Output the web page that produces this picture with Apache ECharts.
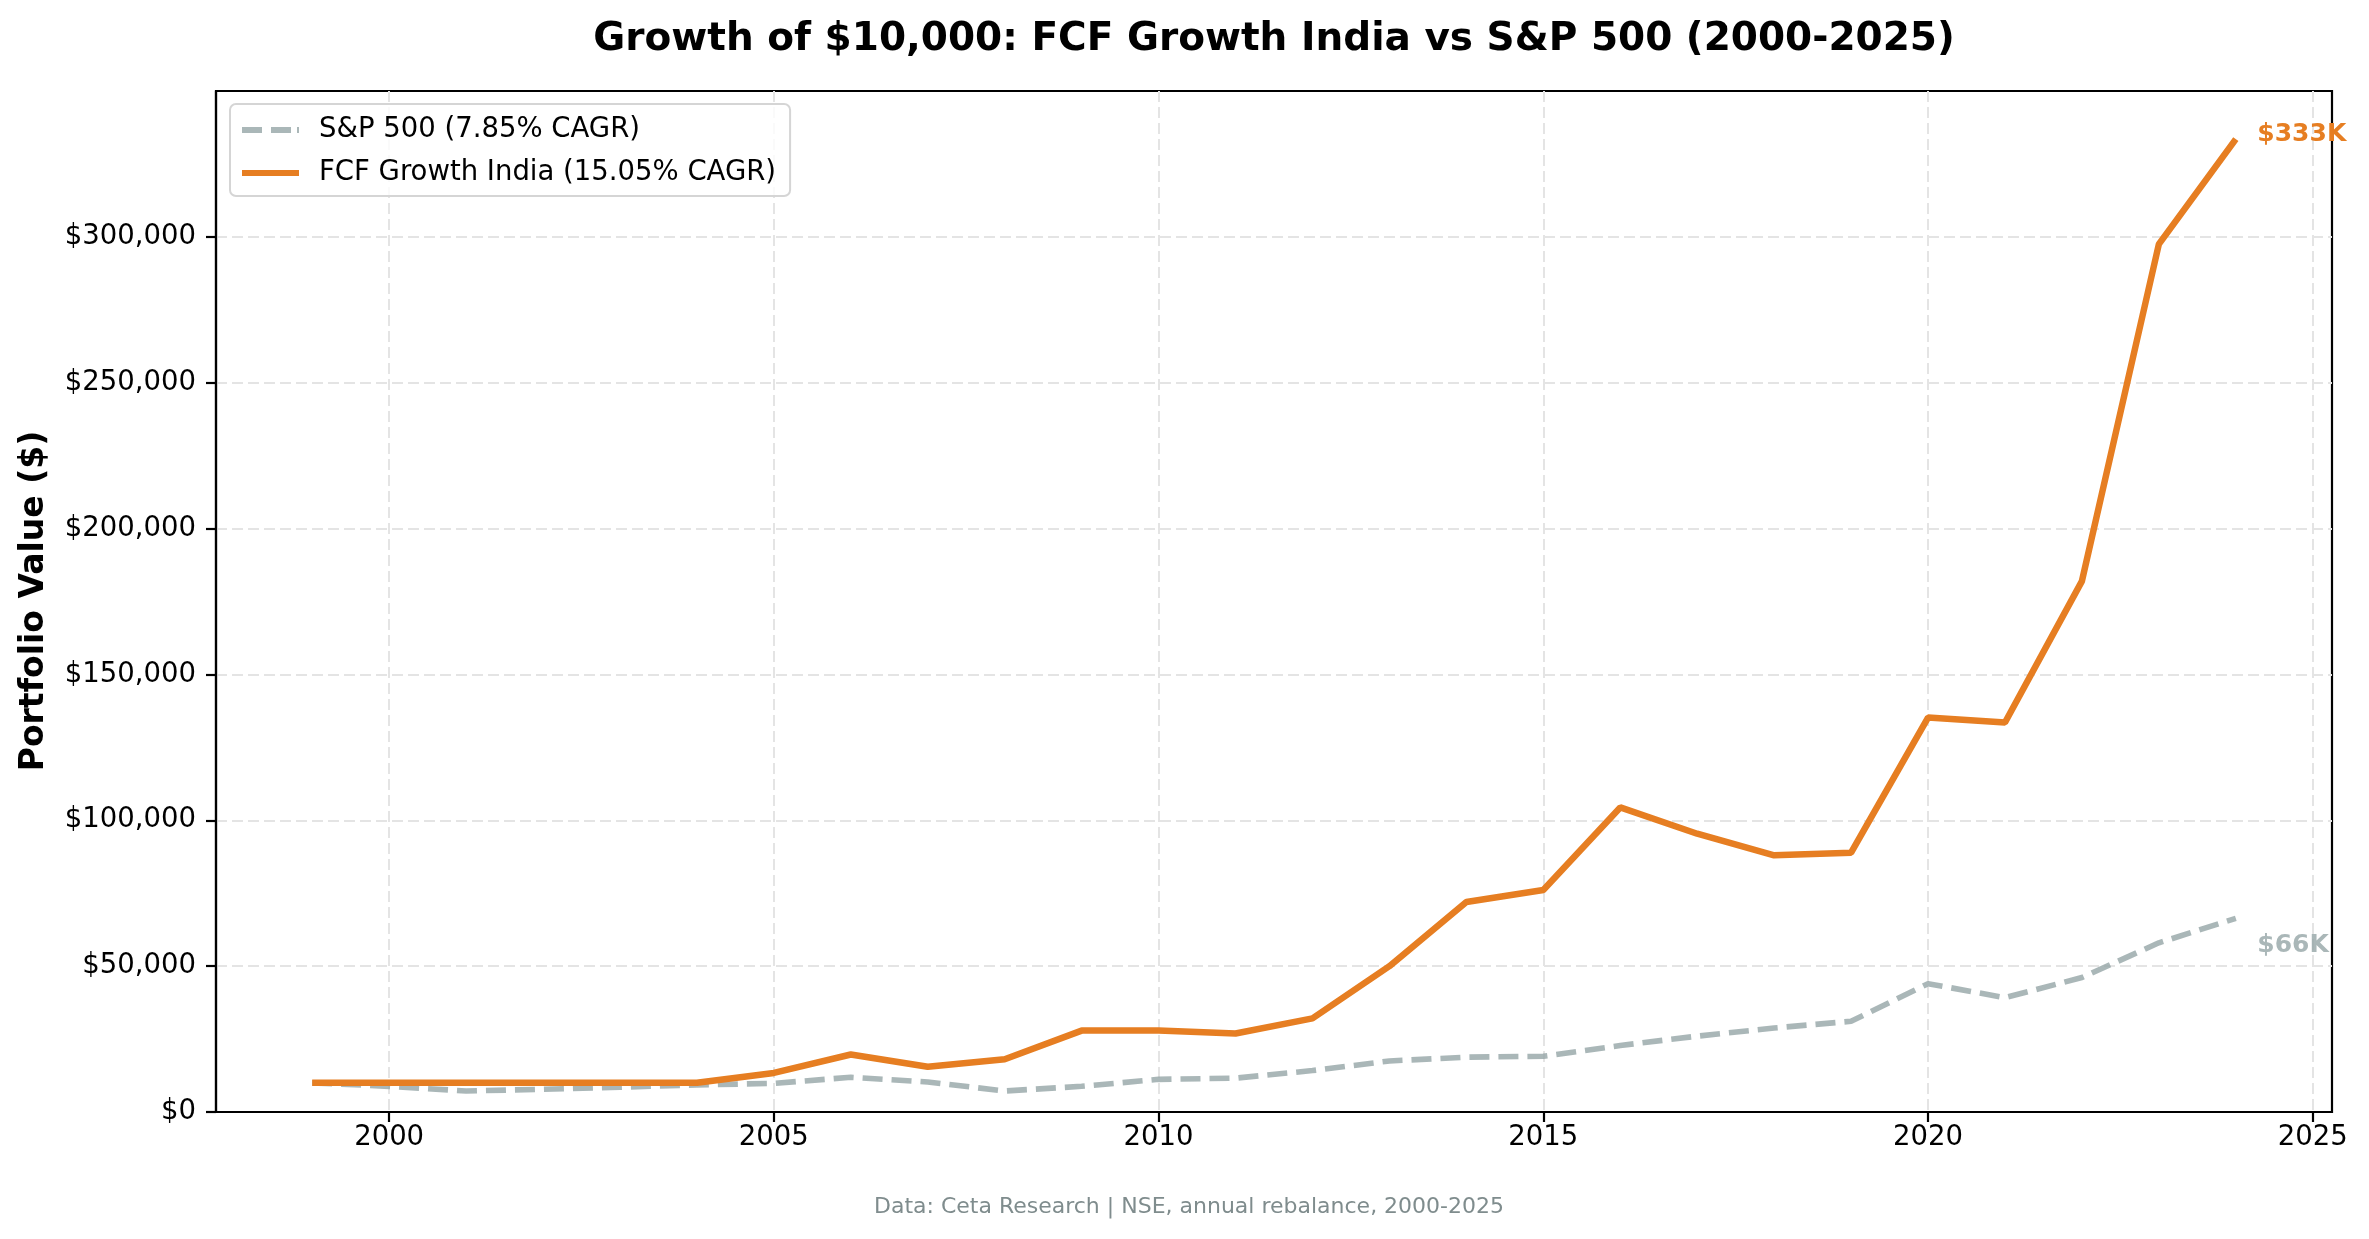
<!doctype html>
<html>
<head>
    <meta charset="utf-8">
    <title>Growth of $10,000</title>
    <script src="https://cdn.jsdelivr.net/npm/echarts@6/dist/echarts.min.js"></script>
    <style>
        html, body { margin: 0; padding: 0; background: #fff; }
        #chart { width: 2369px; height: 1239px; }
    </style>
</head>
<body>
<div id="chart"></div>
<script>
    // data
    var years = [1999, 2000, 2001, 2002, 2003, 2004, 2005, 2006, 2007, 2008, 2009, 2010, 2011,
        2012, 2013, 2014, 2015, 2016, 2017, 2018, 2019, 2020, 2021, 2022, 2023, 2024];
    var sp500 = [10000, 8800, 7200, 7800, 8500, 9300, 9800, 11900, 10300, 7200, 8800, 11200, 11600,
        14200, 17500, 18800, 19100, 22800, 26000, 28800, 31100, 44000, 39200, 46100, 58000, 66400];
    var fcfIndia = [10000, 10000, 10000, 10000, 10000, 10000, 13400, 19700, 15500, 18100, 27900, 27900, 26900,
        32100, 50000, 72000, 76100, 104400, 95400, 88000, 88900, 135200, 133500, 182000, 297500, 333500];
    var xTicks = [2000, 2005, 2010, 2015, 2020, 2025];
    var yTicks = [0, 50000, 100000, 150000, 200000, 250000, 300000];
    var seriesNames = ['S&P 500 (7.85% CAGR)', 'FCF Growth India (15.05% CAGR)'];
    var endLabels = ['$66K', '$333K'];

    var FONT = 'DejaVu Sans';
    var ORANGE = '#E67E22';
    var GREY = 'rgba(149,165,166,0.8)';
    // legend swatches: dashed and solid strokes
    var DASH_ICON = 'path://M0 0H20V6H0Z M29 0H49V6H29Z M55 0H57V6H55Z';
    var SOLID_ICON = 'path://M0 0H57V6H0Z';

    function pairs(vals) {
        return years.map(function (y, i) { return [y, vals[i]]; });
    }
    function money(v) {
        return '$' + v.toLocaleString('en-US');
    }

    var myChart = echarts.init(document.getElementById('chart'));
    var option = {
        animation: false,
        backgroundColor: '#fff',
        textStyle: { fontFamily: FONT },
        title: {
            text: 'Growth of $10,000: FCF Growth India vs S&P 500 (2000-2025)',
            left: 1274,
            textAlign: 'center',
            top: 20,
            padding: 0,
            textStyle: { fontFamily: FONT, fontSize: 39, fontWeight: 'bold', color: '#000', lineHeight: 40 }
        },
        legend: {
            orient: 'vertical',
            left: 230,
            top: 104,
            padding: [11, 14, 8, 12],
            itemWidth: 57,
            itemHeight: 6,
            itemGap: 13,
            backgroundColor: 'rgba(255,255,255,0.8)',
            borderColor: '#d5d5d5',
            borderWidth: 2,
            borderRadius: 6,
            textStyle: { fontFamily: FONT, fontSize: 27.5, color: '#000', lineHeight: 30, padding: [0, 0, 0, 15] },
            data: [
                { name: seriesNames[0], icon: DASH_ICON },
                { name: seriesNames[1], icon: SOLID_ICON }
            ]
        },
        grid: {
            left: 216,
            right: 2369 - 2332,
            top: 91,
            bottom: 1239 - 1112,
            show: true,
            borderColor: '#000',
            borderWidth: 2.2,
            backgroundColor: 'transparent'
        },
        xAxis: {
            type: 'value',
            min: 1997.75,
            max: 2025.25,
            axisLine: { show: true, lineStyle: { color: '#000', width: 2.2 } },
            axisTick: { show: true, length: 10, customValues: xTicks, lineStyle: { color: '#000', width: 2.2 } },
            axisLabel: {
                customValues: xTicks, margin: 12, fontFamily: FONT, fontSize: 27.5, color: '#000',
                formatter: function (v) { return String(v); }
            },
            splitLine: { show: true, lineStyle: { color: '#e4e4e4', width: 2, type: [11, 5] } }
        },
        yAxis: {
            type: 'value',
            min: 0,
            max: 350000,
            axisLine: { show: true, lineStyle: { color: '#000', width: 2.2 } },
            axisTick: { show: true, length: 10, customValues: yTicks, lineStyle: { color: '#000', width: 2.2 } },
            axisLabel: {
                customValues: yTicks, margin: 20, fontFamily: FONT, fontSize: 27.5, color: '#000',
                formatter: function (v) { return money(v); }
            },
            splitLine: { show: true, lineStyle: { color: '#e4e4e4', width: 2, type: [11, 5] } }
        },
        series: [
            {
                name: seriesNames[0],
                type: 'line',
                data: pairs(sp500),
                symbol: 'none',
                z: 2,
                itemStyle: { color: GREY },
                lineStyle: { color: GREY, width: 5.6, type: [20, 9] },
                markPoint: {
                    symbol: 'circle',
                    symbolSize: 1,
                    itemStyle: { color: 'rgba(0,0,0,0)' },
                    label: {
                        show: true, position: 'right', distance: 21, offset: [0, 27],
                        formatter: endLabels[0], fontFamily: FONT, fontSize: 25, fontWeight: 'bold', color: GREY
                    },
                    data: [{ coord: [years[years.length - 1], sp500[sp500.length - 1]] }]
                }
            },
            {
                name: seriesNames[1],
                type: 'line',
                data: pairs(fcfIndia),
                symbol: 'none',
                z: 3,
                itemStyle: { color: ORANGE },
                lineStyle: { color: ORANGE, width: 6.5 },
                markPoint: {
                    symbol: 'circle',
                    symbolSize: 1,
                    itemStyle: { color: 'rgba(0,0,0,0)' },
                    label: {
                        show: true, position: 'right', distance: 21, offset: [0, -5],
                        formatter: endLabels[1], fontFamily: FONT, fontSize: 25, fontWeight: 'bold', color: ORANGE
                    },
                    data: [{ coord: [years[years.length - 1], fcfIndia[fcfIndia.length - 1]] }]
                }
            }
        ],
        graphic: [
            {
                type: 'text',
                x: 34,
                y: 601,
                rotation: Math.PI / 2,
                style: {
                    text: 'Portfolio Value ($)',
                    fontFamily: FONT, fontSize: 33, fontWeight: 'bold', fill: '#000',
                    align: 'center', verticalAlign: 'middle'
                }
            },
            {
                type: 'text',
                x: 1189,
                y: 1207,
                style: {
                    text: 'Data: Ceta Research | NSE, annual rebalance, 2000-2025',
                    fontFamily: FONT, fontSize: 22, fill: '#7f8c8d',
                    align: 'center', verticalAlign: 'middle'
                }
            }
        ]
    };
    myChart.setOption(option);
</script>
</body>
</html>
